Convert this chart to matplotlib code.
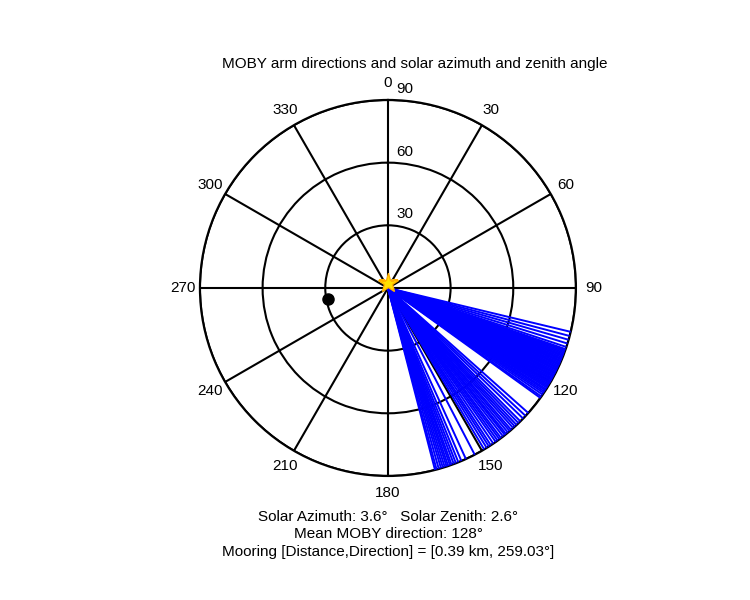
import numpy as np
import matplotlib
matplotlib.use('Agg')
from matplotlib import pyplot as plt

plt.rcParams['font.family'] = ['Liberation Sans', 'DejaVu Sans']

# MOBY arm directions (deg, compass)
arm_directions = [
    103.5, 104.8, 106.0, 107.2, 108.3,
    109.0, 109.4, 109.8, 110.2, 110.6, 111.0, 111.3, 111.7, 112.1, 112.4,
    112.8, 113.1, 113.5, 113.9, 114.2, 114.6, 115.0, 115.3, 115.7, 116.0,
    116.4, 116.8, 117.1, 117.5, 117.9, 118.2, 118.6, 119.0, 119.3, 119.7,
    120.1, 120.5, 120.9, 121.3, 121.7, 122.1, 122.6, 123.0, 123.5, 124.0,
    124.6, 125.3, 125.8,
    131.7, 132.9, 134.0, 135.2, 136.0, 136.8, 137.5, 138.2, 139.0, 139.6,
    140.3, 141.0, 141.5, 142.2, 143.0, 143.6, 144.3, 145.0, 145.9, 146.8,
    147.5, 148.3, 149.2,
    152.5, 155.5, 157.0, 158.0, 158.8, 159.5, 160.2, 160.7, 161.3, 161.8,
    162.4, 163.0, 163.6, 164.3, 165.0, 165.5,
]
arm_length = 90

solar_azimuth = 3.6
solar_zenith = 2.6
mean_direction = 128
mooring_distance = 0.39
mooring_direction = 259.03
mooring_r = 29

theta_ticks = list(range(0, 360, 30))
r_ticks = [30, 60, 90]


def main():
    fig = plt.figure(figsize=(7.5, 6), dpi=100)
    ax = fig.add_axes([0.2666, 0.2067, 0.5013, 0.6267], projection='polar')
    ax.set_theta_zero_location('N')
    ax.set_theta_direction(-1)
    ax.set_ylim(0, 90)

    for d in arm_directions:
        ax.plot([np.radians(d)] * 2, [0, arm_length], color='#0000ff', lw=1.4, zorder=3)

    ax.plot(np.radians(mooring_direction), mooring_r, 'o', color='k', ms=8, zorder=4)
    ax.plot(np.radians(solar_azimuth), solar_zenith, marker='*', color='#ffe000',
            mec='#ffb000', mew=1, ms=15, zorder=5)

    ax.set_thetagrids(theta_ticks, [str(t) for t in theta_ticks], fontsize=11)
    ax.set_rgrids(r_ticks, labels=['' for _ in r_ticks])
    ax.tick_params(axis='x', pad=2)
    ax.grid(True, color='k', lw=1.5, ls='-')
    ax.spines['polar'].set_linewidth(1.6)
    for r in r_ticks:
        ax.annotate(str(r), xy=(0, r), xytext=(12, 8), textcoords='offset points',
                    fontsize=11, ha='center', va='center')

    fig.text(415 / 750, 1 - 64 / 600,
             'MOBY arm directions and solar azimuth and zenith angle',
             ha='center', va='center', fontsize=11)
    lines = [
        f'Solar Azimuth: {solar_azimuth}°   Solar Zenith: {solar_zenith}°',
        f'Mean MOBY direction: {mean_direction}°',
        f'Mooring [Distance,Direction] = [{mooring_distance} km, {mooring_direction:.2f}°]',
    ]
    for i, s in enumerate(lines):
        fig.text(388 / 750, 1 - (517 + 17.5 * i) / 600, s, ha='center', va='center', fontsize=11)

    fig.savefig('out.png')


if __name__ == '__main__':
    main()
